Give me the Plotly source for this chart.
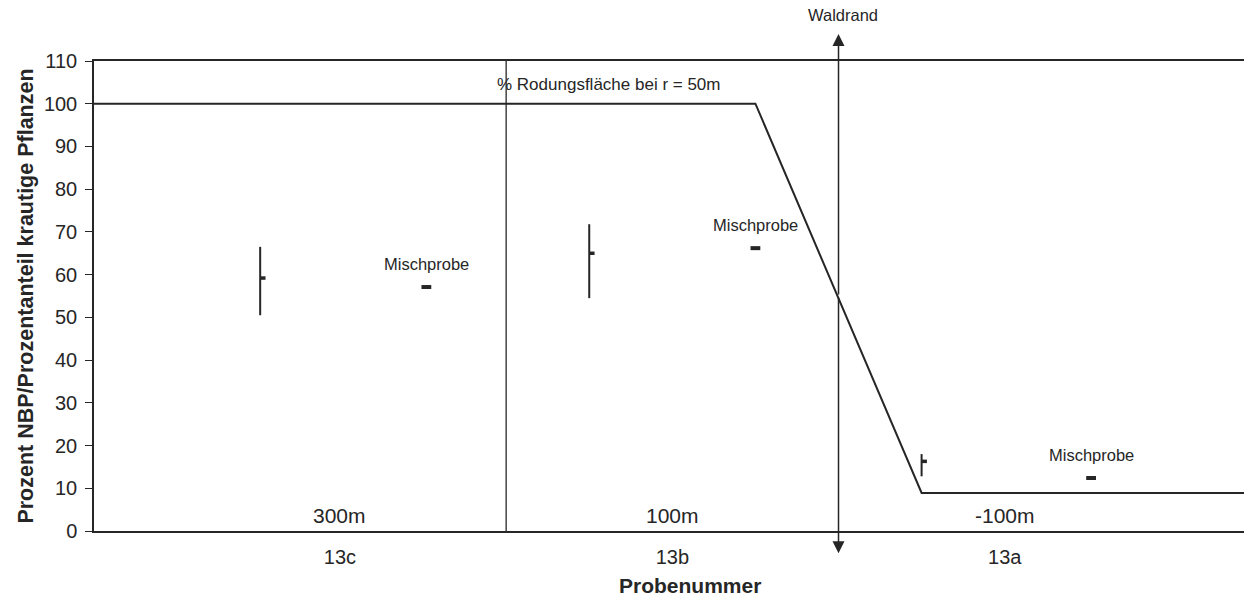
import plotly.graph_objects as go

# ---- data ----
categories = ["13c", "13b", "13a"]
category_pos = [0, 1, 2]
distance_labels = ["300m", "100m", "-100m"]

sample_x = [-0.24, 0.75, 1.75]
sample_low = [50.5, 54.5, 12.8]
sample_high = [66.5, 71.8, 18.0]
sample_mean = [59.2, 65.0, 16.3]

misch_x = [0.26, 1.25, 2.26]
misch_val = [57.1, 66.2, 12.4]

x_range = [-0.74, 2.72]
rodung_x = [x_range[0], 1.25, 1.75, x_range[1]]
rodung_y = [100, 100, 8.9, 8.9]

separator_x = 0.5
waldrand_x = 1.5

y_ticks = list(range(0, 111, 10))

INK = "#262626"
FONT = "Liberation Sans, Arial, sans-serif"

fig = go.Figure()

# Rodungsfläche line
fig.add_trace(go.Scatter(x=rodung_x, y=rodung_y, mode="lines",
                         line=dict(color=INK, width=2), hoverinfo="skip"))

# separator between 13c and 13b
fig.add_trace(go.Scatter(x=[separator_x, separator_x], y=[0, 110], mode="lines",
                         line=dict(color=INK, width=1.3), hoverinfo="skip"))

# high-low bars
hx, hy = [], []
for x, lo, hi in zip(sample_x, sample_low, sample_high):
    hx += [x, x, None]
    hy += [lo, hi, None]
fig.add_trace(go.Scatter(x=hx, y=hy, mode="lines",
                         line=dict(color=INK, width=2), hoverinfo="skip"))

# mean ticks (to the right of each bar)
tick_len = 0.016
mx, my = [], []
for x, m in zip(sample_x, sample_mean):
    mx += [x, x + tick_len, None]
    my += [m, m, None]
fig.add_trace(go.Scatter(x=mx, y=my, mode="lines",
                         line=dict(color=INK, width=3.5), hoverinfo="skip"))

# Mischprobe markers
fig.add_trace(go.Scatter(x=misch_x, y=misch_val, mode="markers",
                         marker=dict(symbol="line-ew", size=7,
                                     line=dict(color=INK, width=4)),
                         hoverinfo="skip"))

annotations = []
# Mischprobe labels
for x, v in zip(misch_x, misch_val):
    annotations.append(dict(x=x, y=v, yshift=23, text="Mischprobe", showarrow=False,
                            font=dict(size=16.5, color=INK, family=FONT)))
# distance labels
for x, t in zip(category_pos, distance_labels):
    annotations.append(dict(x=x, y=3.7, text=t, showarrow=False,
                            font=dict(size=21, color=INK, family=FONT)))
# Rodung label
annotations.append(dict(x=0.81, y=104.6, text="% Rodungsfläche bei r = 50m",
                        showarrow=False, font=dict(size=17, color=INK, family=FONT)))
# Waldrand label
annotations.append(dict(x=waldrand_x, xref="x", y=1.098, yref="paper", yanchor="middle",
                        text="Waldrand", showarrow=False, xshift=4,
                        font=dict(size=16.5, color=INK, family=FONT)))
# x-axis title (centred on the original, wider plot area)
annotations.append(dict(x=0.518, xref="paper", y=-0.115, yref="paper",
                        xanchor="center", yanchor="middle",
                        text="<b>Probenummer</b>", showarrow=False,
                        font=dict(size=21, color=INK, family=FONT)))
# Waldrand double arrow
for tip in (116.3, -5.2):
    annotations.append(dict(x=waldrand_x, y=tip, ax=waldrand_x, ay=55,
                            xref="x", yref="y", axref="x", ayref="y",
                            text="", showarrow=True, arrowhead=2, arrowsize=1.6,
                            arrowwidth=1.5, arrowcolor=INK, standoff=0))

fig.update_layout(
    width=1244, height=600,
    margin=dict(l=94, r=0, t=61, b=69),
    paper_bgcolor="white", plot_bgcolor="white",
    showlegend=False,
    font=dict(family=FONT, color=INK, size=16),
    annotations=annotations,
    xaxis=dict(range=x_range, tickmode="array", tickvals=category_pos,
               ticktext=categories, ticks="", showgrid=False, zeroline=False,
               showline=True, linecolor=INK, linewidth=1.5, mirror=True,
               ticklabelstandoff=7, tickfont=dict(size=20)),
    yaxis=dict(range=[0, 110], tickmode="array", tickvals=y_ticks,
               ticks="outside", ticklen=7, tickwidth=1.3, tickcolor=INK,
               showgrid=False, zeroline=False, showline=True, linecolor=INK,
               linewidth=1.5, tickfont=dict(size=20), ticklabelstandoff=4,
               title=dict(text="<b>Prozent NBP/Prozentanteil krautige Pflanzen</b>",
                          font=dict(size=21.5), standoff=4)),
)

fig.write_html("out.html")
